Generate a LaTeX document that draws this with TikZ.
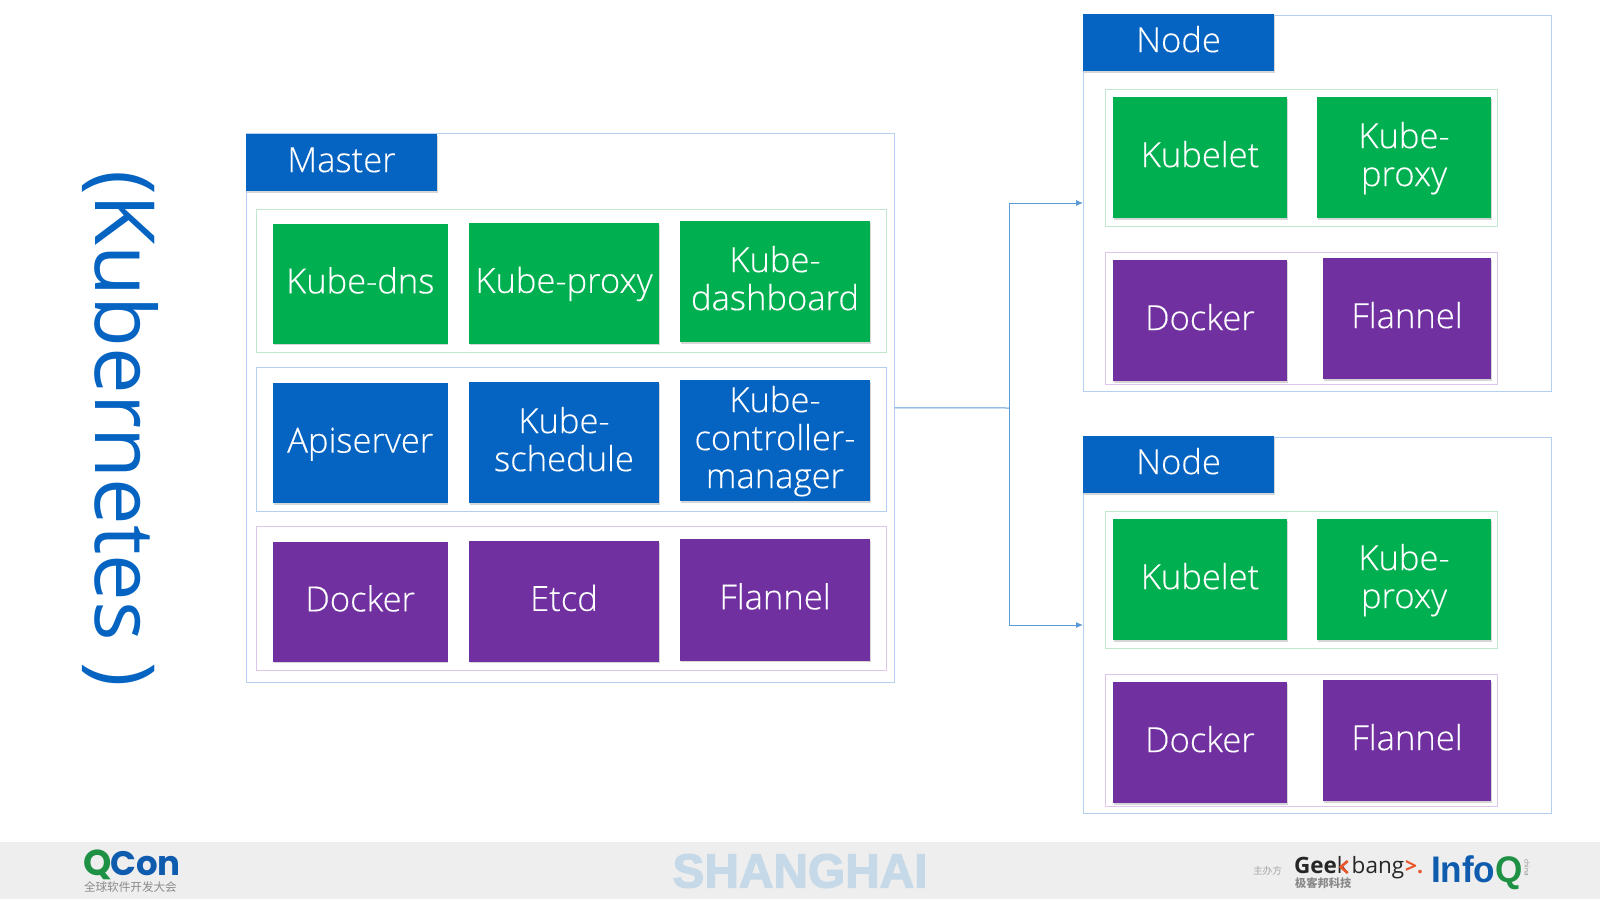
\documentclass[tikz,border=0pt]{standalone}
\usepackage{fontspec}
\setmainfont{Open Sans Light}[FakeBold=0.3]
\newfontfamily\regf{Open Sans}
\newfontfamily\cjkf{Noto Sans CJK SC}
\newfontfamily\boldf{Liberation Sans}
\newfontfamily\logof{Poppins}
\newfontfamily\heavyf{Liberation Sans}[FakeBold=2.5]
\usetikzlibrary{shadows,arrows.meta}
\definecolor{kblue}{HTML}{0563C1}
\definecolor{kgreen}{HTML}{00B050}
\definecolor{kpurple}{HTML}{7030A0}
\definecolor{fblue}{HTML}{B4D0EE}
\definecolor{fgreen}{HTML}{BFE8CF}
\definecolor{fpurple}{HTML}{DCC6EA}
\definecolor{wire}{HTML}{5B9BD5}
\definecolor{band}{HTML}{EEEEEE}
\definecolor{qgreen}{HTML}{1E9145}
\definecolor{qblue}{HTML}{0F5CAF}
\definecolor{sgrey}{HTML}{8A8A8A}
\definecolor{shcol}{HTML}{C5D9E8}
\definecolor{gorange}{HTML}{E8562A}
\tikzset{
  rectn/.style={inner sep=0pt,outer sep=0pt,anchor=north west,align=center,text=white},
  solidbox/.style={rectn,font=\fontsize{34.6}{38}\selectfont,drop shadow={shadow xshift=.6pt,shadow yshift=-1.6pt,opacity=.16,fill=black}},
  gbox/.style={solidbox,fill=kgreen},
  bbox/.style={solidbox,fill=kblue},
  pbox/.style={solidbox,fill=kpurple},
  frameb/.style={rectn,draw=fblue,line width=1pt,fill=white},
  frameg/.style={rectn,draw=fgreen,line width=1pt,fill=white},
  framep/.style={rectn,draw=fpurple,line width=1pt,fill=white},
  wirearrow/.style={draw=wire,line width=1pt,-{Latex[length=7pt,width=6pt]}},
  wireline/.style={draw=wire,line width=1pt},
  logo/.style={inner sep=0pt,outer sep=0pt,anchor=base west}
}
\newcommand{\bx}[7]{%
  \pgfmathsetmacro{\bw}{#5-#3}\pgfmathsetmacro{\bh}{#6-#4}%
  \node[#2,minimum width=\bw pt,minimum height=\bh pt] (#1) at (#3,#4) {#7};}
\newcommand{\ks}{\rule[-9.4pt]{0pt}{38pt}}
\newcommand{\worker}[2]{%
  \bx{n#1}{frameb}{1083}{\the\numexpr15+#2\relax}{1551.5}{\the\numexpr391+#2\relax}{}
  \bx{n#1top}{frameg}{1105.5}{\the\numexpr89+#2\relax}{1497}{\the\numexpr226+#2\relax}{}
  \bx{n#1bot}{framep}{1105.5}{\the\numexpr252+#2\relax}{1497}{\the\numexpr384+#2\relax}{}
  \bx{n#1head}{bbox}{1083}{\the\numexpr14+#2\relax}{1274}{\the\numexpr71+#2\relax}{\ks Node}
  \bx{n#1kl}{gbox}{1113}{\the\numexpr97+#2\relax}{1287}{\the\numexpr218+#2\relax}{\ks Kubelet}
  \bx{n#1kp}{gbox}{1317}{\the\numexpr97+#2\relax}{1491}{\the\numexpr218+#2\relax}{\ks Kube-\\\ks proxy}
  \bx{n#1dk}{pbox}{1113}{\the\numexpr260+#2\relax}{1287}{\the\numexpr381+#2\relax}{\ks Docker}
  \bx{n#1fl}{pbox}{1323}{\the\numexpr258+#2\relax}{1491}{\the\numexpr379+#2\relax}{\ks Flannel}
}
\begin{document}
\begin{tikzpicture}[x=1pt,y=-1pt]
\useasboundingbox (0,0) rectangle (1600,900);
\fill[white] (0,0) rectangle (1600,900);
\fill[band] (0,842) rectangle (1600,899);
% title
\node[inner sep=0pt,rotate=-90,text=kblue,font=\regf\fontsize{83}{83}\selectfont] (title) at (120,428.5) {(Kubernetes )};
% master
\bx{master}{frameb}{246.5}{133.5}{894.5}{682}{}
\bx{mrow1}{frameg}{256.5}{209}{886}{352}{}
\bx{mrow2}{frameb}{256.5}{367.5}{886}{511}{}
\bx{mrow3}{framep}{256.5}{526.5}{886}{670.5}{}
\bx{mhead}{bbox}{246}{134}{437}{191}{\ks Master}
\bx{a1}{gbox}{273}{224}{447.5}{343.5}{\ks Kube-dns}
\bx{a2}{gbox}{469}{223}{659}{343.5}{\ks Kube-proxy}
\bx{a3}{gbox}{680}{221}{870}{342}{\ks Kube-\\\ks dashboard}
\bx{b1}{bbox}{273}{383}{447.5}{503}{\ks Apiserver}
\bx{b2}{bbox}{469}{382}{659}{503}{\ks Kube-\\\ks schedule}
\bx{b3}{bbox}{680}{380}{870}{501}{\ks Kube-\\\ks controller-\\\ks manager}
\bx{c1}{pbox}{273}{542}{447.5}{661.5}{\ks Docker}
\bx{c2}{pbox}{469}{541}{659}{661.5}{\ks Etcd}
\bx{c3}{pbox}{680}{539}{870}{660.5}{\ks Flannel}
% workers
\worker{1}{0}
\worker{2}{422}
% connectors
\coordinate (fork) at (1009.5,408);
\draw[wireline] (master.east) -- (fork);
\draw[wirearrow] (fork) |- (n1.west);
\draw[wirearrow] (fork) |- (n2.west);
% footer logos
\node[logo,text=qgreen,font=\logof\bfseries\fontsize{36}{36}\selectfont] (lq) at (83,875) {Q};
\node[logo,text=qblue,font=\logof\bfseries\fontsize{34}{34}\selectfont] (lcon) at ([xshift=-1pt]lq.base east) {Con};
\node[logo,text=sgrey,font=\cjkf\fontsize{11.6}{11.6}\selectfont] (lcn) at (84,891) {全球软件开发大会};
\node[inner sep=0pt,text=shcol,font=\heavyf\bfseries\fontsize{47.8}{47.8}\selectfont] (sh) at (800,871) {SHANGHAI};
\node[logo,text=black!35,font=\cjkf\fontsize{9.7}{9.7}\selectfont] (zb) at (1253,874) {主办方};
\node[logo,text=black!85,font=\regf\bfseries\fontsize{22.5}{22.5}\selectfont] (g1) at (1294,873) {Gee};
\node[logo,text=black!85,font=\regf\fontsize{22.5}{22.5}\selectfont] (g2) at (g1.base east) {k};
\draw[gorange,line width=2.6pt] ([xshift=-1pt,yshift=12pt]g2.base east) -- ([xshift=-8pt,yshift=6pt]g2.base east) -- ([xshift=-1pt,yshift=0pt]g2.base east);
\node[logo,text=black!85,font=\regf\fontsize{22.5}{22.5}\selectfont] (g3) at ([xshift=3pt]g2.base east) {bang};
\node[logo,text=gorange,font=\regf\bfseries\fontsize{21}{21}\selectfont] (g4) at ([xshift=1pt]g3.base east) {>.};
\node[logo,text=sgrey,font=\cjkf\bfseries\fontsize{11.3}{11.3}\selectfont] (g5) at (1295,887) {极客邦科技};
\node[logo,text=qblue,font=\boldf\bfseries\fontsize{37}{37}\selectfont,xscale=.95] (i1) at (1431,882) {Info};
\node[logo,text=qgreen,font=\boldf\bfseries\fontsize{37}{37}\selectfont,xscale=.95] (i2) at (i1.base east) {Q};
\node[inner sep=0pt,rotate=-90,text=sgrey,font=\regf\fontsize{6.5}{6.5}\selectfont] (i3) at (1527,868) {china};
\end{tikzpicture}
\end{document}
